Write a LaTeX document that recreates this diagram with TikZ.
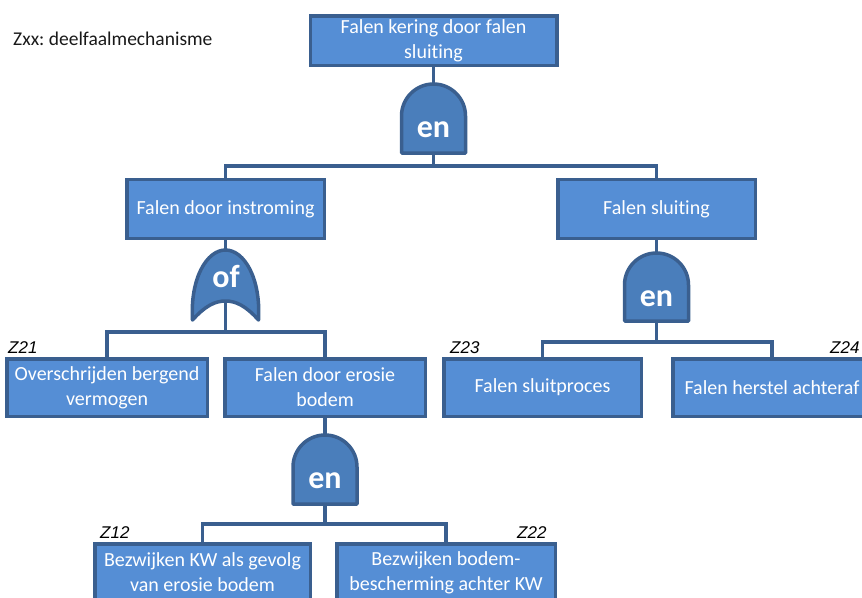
\documentclass[tikz,border=0pt]{standalone}
\usepackage{fontspec}
\setmainfont{Carlito}[Ligatures=NoCommon]
\newfontfamily\arialfont{Liberation Sans}
\definecolor{boxblue}{HTML}{558ED5}
\definecolor{gateblue}{HTML}{4A7EBB}
\definecolor{lineblue}{HTML}{3A5F8F}
\newcommand\andgate[3]{\draw[gate] (#1-32,#3) -- (#1-32,#2+32) .. controls (#1-32,#2+14.3) and (#1-17.7,#2) .. (#1,#2) .. controls (#1+17.7,#2) and (#1+32,#2+14.3) .. (#1+32,#2+32) -- (#1+32,#3) -- cycle;}
\frenchspacing
\begin{document}
\begin{tikzpicture}[x=1pt,y=-1pt,
  box/.style={draw=lineblue, fill=boxblue, line width=3.5pt, text=white,
    font=\fontsize{20}{25}\selectfont, align=center, inner sep=0pt},
  gate/.style={draw=lineblue, fill=gateblue, line width=3.5pt, line join=round},
  gatebox/.style={inner sep=0pt, outer sep=0pt},
  gatetext/.style={text=white, font=\fontsize{32}{32}\selectfont\bfseries, anchor=base, inner sep=0pt},
  conn/.style={draw=lineblue, line width=3.5pt},
  zlabel/.style={font=\arialfont\itshape\fontsize{17}{18}\selectfont, anchor=base west, inner sep=0pt}]
\useasboundingbox (0,0) rectangle (862,597);

% title
\node[font=\fontsize{19.5}{22}\selectfont, text=black!90, anchor=base west, inner sep=0pt] (title) at (13,45) {Zxx: deelfaalmechanisme};

% boxes
\node[box, minimum width=246.5pt, minimum height=49.5pt] (top) at (433.5,40.5) {Falen kering door falen\\sluiting};
\node[box, minimum width=197.5pt, minimum height=59pt] (instr) at (225.5,209) {Falen door instroming};
\node[box, minimum width=197.5pt, minimum height=59pt] (sluit) at (656.5,209) {Falen sluiting};
\node[box, minimum width=200.5pt, minimum height=57.5pt] (over) at (107,387.5) {Overschrijden bergend\\vermogen};
\node[box, minimum width=200.5pt, minimum height=57.5pt] (eros) at (325,387.5) {Falen door erosie\\bodem};
\node[box, minimum width=197.5pt, minimum height=57.5pt] (sproc) at (542.5,387.5) {Falen sluitproces};
\node[box, minimum width=198.5pt, minimum height=57.5pt] (herst) at (772,387.5) {Falen herstel achteraf};
\node[box, minimum width=215.5pt, minimum height=57.5pt] (bkw) at (202.5,572.5) {Bezwijken KW als gevolg\\van erosie bodem};
\node[box, minimum width=218.5pt, minimum height=57.5pt] (bbod) at (446,572.5) {Bezwijken bodem-\\bescherming achter KW};

% gate anchor nodes
\node[gatebox, minimum width=64pt, minimum height=69pt] (g1) at (433.5,118.5) {};
\node[gatebox, minimum width=66pt, minimum height=70pt] (g2) at (225.5,285) {};
\coordinate (g2n) at (225.5,301);
\node[gatebox, minimum width=64pt, minimum height=68pt] (g3) at (656.5,287) {};
\node[gatebox, minimum width=64pt, minimum height=69pt] (g4) at (325,469.5) {};

% bar coordinates
\coordinate (b1) at (433.5,166);
\coordinate (b2) at (225.5,332);
\coordinate (b3) at (656.5,342);
\coordinate (b4) at (325,524);

% connectors
\draw[conn] (top.south) -- (g1.north);
\draw[conn] (g1.south) -- (b1);
\draw[conn] (instr.north) |- (b1) -| (sluit.north);
\draw[conn] (instr.south) -- (g2.north);
\draw[conn] (g2n) -- (b2);
\draw[conn] (over.north) |- (b2) -| (eros.north);
\draw[conn] (sluit.south) -- (g3.north);
\draw[conn] (g3.south) -- (b3);
\draw[conn] (sproc.north) |- (b3) -| (herst.north);
\draw[conn] (eros.south) -- (g4.north);
\draw[conn] (g4.south) -- (b4);
\draw[conn] (bkw.north) |- (b4) -| (bbod.north);

% gates
\andgate{433.5}{84}{153}
\andgate{656.5}{253}{321}
\andgate{325}{435}{504}
\draw[gate] (192.5,320) .. controls (190,278) and (207,250) .. (225.5,250)
  .. controls (244,250) and (261,278) .. (258.5,320)
  .. controls (246,306) and (236,301) .. (225.5,301)
  .. controls (215,301) and (205,306) .. (192.5,320) -- cycle;

\node[gatetext] (g1t) at (433.5,137) {en};
\node[gatetext] (g2t) at (226,287) {of};
\node[gatetext] (g3t) at (656.5,306) {en};
\node[gatetext] (g4t) at (325,488) {en};

% Z labels
\node[zlabel] (z21) at (8,353) {Z21};
\node[zlabel] (z23) at (450,353) {Z23};
\node[zlabel] (z24) at (830,353) {Z24};
\node[zlabel] (z12) at (100,538) {Z12};
\node[zlabel] (z22) at (517,538) {Z22};
\end{tikzpicture}
\end{document}
